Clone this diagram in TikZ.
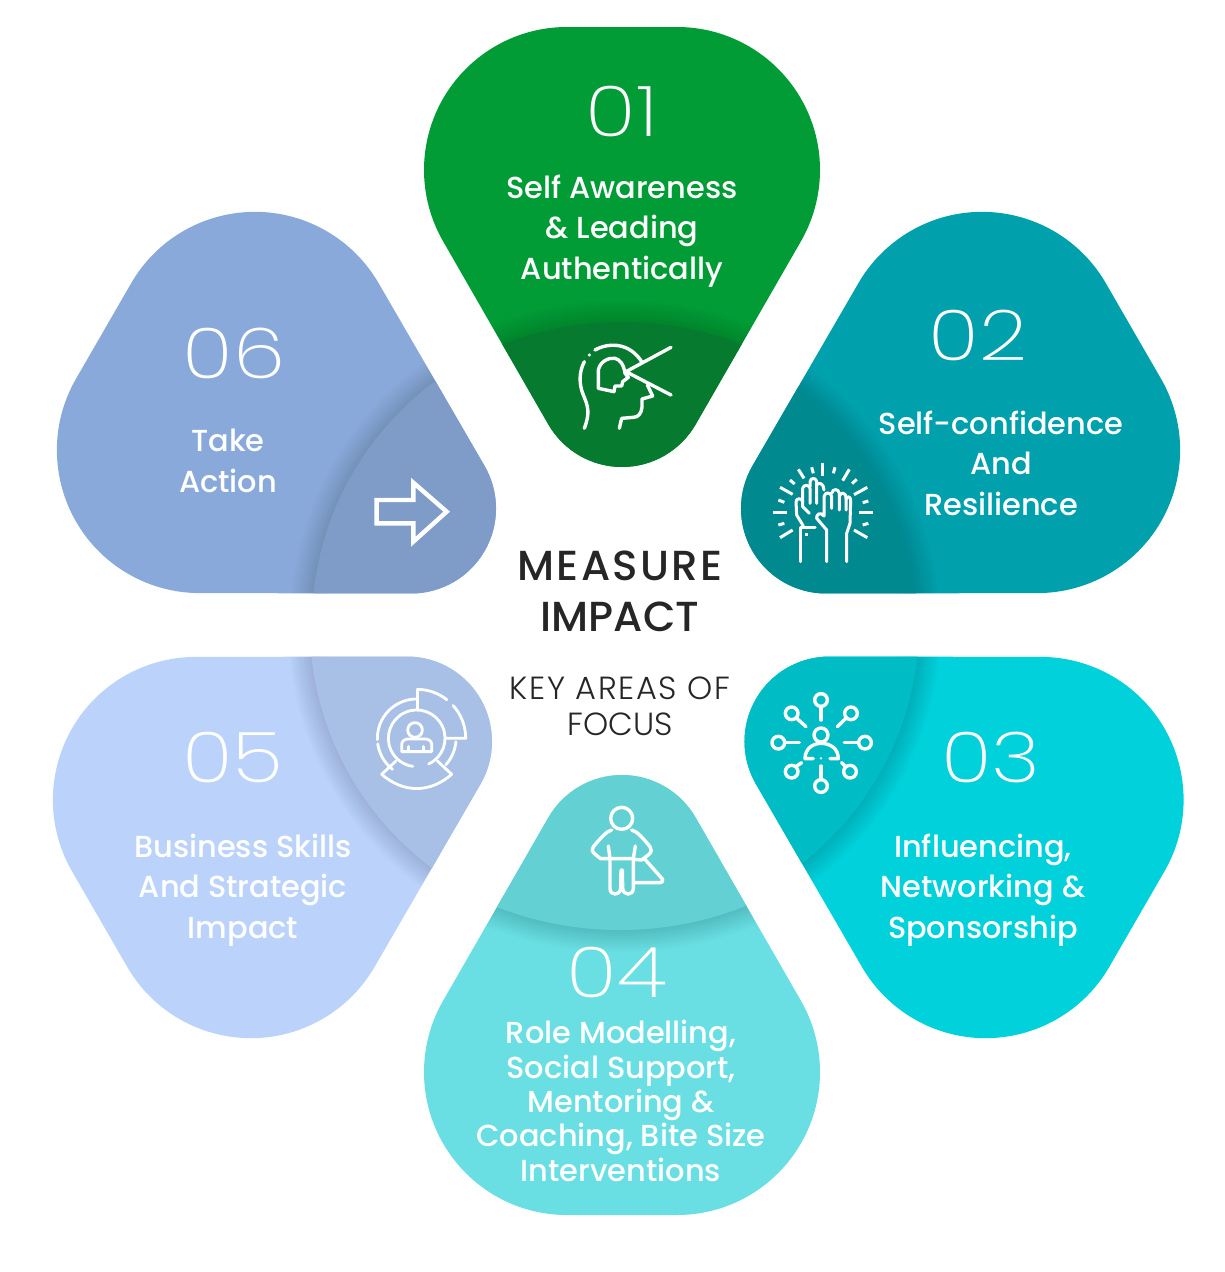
\documentclass[tikz,border=0pt]{standalone}
\usepackage{fontspec}
\setmainfont{Poppins}
\newfontfamily\thinfont[FakeStretch=1.2]{Poppins ExtraLight}
\newfontfamily\medfont{Poppins Medium}
\newfontfamily\lightfont{Poppins Light}
\tikzset{
 num/.style={text=white,font=\thinfont\fontsize{70}{70}\selectfont,inner sep=0pt},
 lab/.style={text=white,align=center,font=\medfont\fontsize{30.4}{40.4}\selectfont,inner sep=0pt},
 ico/.style={draw=white,line width=3.4pt,line cap=round,line join=round},
}
\newcommand{\petalpath}{(55,-594) .. controls (134,-594) and (198,-530) .. (198,-451)
 .. controls (198,-425.9) and (191.35,-401.2) .. (178.8,-379.5)
 -- (73.6,-196.5) .. controls (58.4,-170.2) and (30.4,-154) .. (0,-154)
 .. controls (-30.4,-154) and (-58.4,-170.2) .. (-73.6,-196.5)
 -- (-178.8,-379.5) .. controls (-191.35,-401.2) and (-198,-425.9) .. (-198,-451)
 .. controls (-198,-530) and (-134,-594) .. (-55,-594) -- cycle}
\newcommand{\petal}[8]{%
 \begin{scope}[shift={(#1,#2)},rotate=#3]
  \fill[#4] \petalpath;
  \begin{scope}
   \clip \petalpath;
   \begin{scope}[reset cm]
    \foreach \w in {4,8,...,44}{\draw[black,opacity=.013,line width=\w pt] (#6,#7) circle (#8);}
    \fill[#5] (#6,#7) circle (#8);
   \end{scope}
  \end{scope}
 \end{scope}}
\begin{document}
\begin{tikzpicture}[x=1pt,y=-1pt]
\useasboundingbox (0,0) rectangle (1225,1272);
\fill[white] (0,0) rectangle (1225,1272);
\definecolor{p1}{HTML}{029C37}\definecolor{d1}{HTML}{067A2E}
\definecolor{p2}{HTML}{00A0AC}\definecolor{d2}{HTML}{008A90}
\definecolor{p3}{HTML}{00D1DB}\definecolor{d3}{HTML}{00BCC5}
\definecolor{p4}{HTML}{69DFE3}\definecolor{d4}{HTML}{63D1D4}
\definecolor{p5}{HTML}{BBD3FB}\definecolor{d5}{HTML}{A9C0E6}
\definecolor{p6}{HTML}{8AA9DB}\definecolor{d6}{HTML}{7F9BC8}
\petal{622}{621}{0}{p1}{d1}{622}{652}{330}
\petal{619}{628}{-60}{p2}{d2}{615}{629}{303}
\petal{622.5}{622}{-120}{p3}{d3}{616}{624}{303}
\petal{622}{621}{180}{p4}{d4}{620}{590}{340}
\petal{614}{622}{120}{p5}{d5}{613}{625}{303}
\petal{618}{628}{60}{p6}{d6}{615}{625}{303}
% numbers
\node[num] (n1) at (622,112) {01};
\node[num] (n2) at (978,335) {02};
\node[num] (n3) at (991,757) {03};
\node[num] (n4) at (617,972) {04};
\node[num] (n5) at (233,757) {05};
\node[num] (n6) at (234,353) {06};
% labels
\node[lab] (t1) at (622,231) {Self Awareness\\\& Leading\\Authentically};
\node[lab] (t2) at (1001,463) {Self-confidence\\And\\Resilience};
\node[lab] (t3) at (983,890) {Influencing,\\Networking \&\\Sponsorship};
\node[lab,font=\medfont\fontsize{30.4}{34.3}\selectfont] (t4) at (621,1101) {Role Modelling,\\Social Support,\\Mentoring \&\\Coaching, Bite Size\\Interventions};
\node[lab] (t5) at (243,890) {Business Skills\\And Strategic\\Impact};
\node[lab] (t6) at (228,461) {Take\\Action};
\node[inner sep=0pt,align=center,text=black!85,font=\medfont\fontsize{42}{51}\selectfont] (c1) at (620,591) {{\addfontfeature{LetterSpace=5.8}MEASURE}\\IMPACT};
\node[inner sep=0pt,align=center,text=black!85,font=\lightfont\fontsize{32}{36}\selectfont] (c2) at (620,706) {{\addfontfeature{LetterSpace=5}KEY AREAS OF}\\FOCUS};
% icon 1
\begin{scope}[shift={(540,320)},x=1/3*1pt,y=-1/3*1pt]
 \draw[ico] (165,90) .. controls (210,65) and (270,70) .. (305,125);
 \fill[white] (148,105) circle (5);
 \draw[ico] (133,125) .. controls (115,160) and (118,195) .. (130,225) .. controls (145,260) and (150,280) .. (133,325);
 \draw[ico] (175,205) -- (175,150) .. controls (180,125) and (205,112) .. (225,115) .. controls (240,118) and (252,135) .. (255,160) -- (265,172) -- (248,185) -- (245,198) -- (225,198) -- (222,215) -- cycle;
 \draw[ico] (393,82) -- (258,155) -- (393,225);
 \draw[ico] (322,195) -- (338,228) -- (306,237) -- (306,262) .. controls (304,280) and (295,292) .. (280,292) -- (245,295) -- (238,325);
\end{scope}
% icon 2
\begin{scope}[shift={(750,440)},x=1/3*1pt,y=-1/3*1pt,ico/.append style={line width=3pt}]
 \foreach \a/\b/\c/\d in {218/68/218/108,185/82/190/100,145/88/162/115,120/120/134/132,90/142/128/163,85/180/103/187,70/217/112/217,85/255/103/250,90/293/128/270,255/82/250/100,298/88/278/122,320/118/306/131,352/142/312/164,355/183/338/188,370/217/328/217,355/250/338/255,352/293/312/270}
  \draw[ico,line cap=butt] (\a,\b) -- (\c,\d);
 \draw[ico] (150,365) -- (150,262) -- (195,262);
 \draw[ico] (160,258) -- (140,225) -- (138,185) .. controls (138,175) and (155,172) .. (158,185) -- (158,145) .. controls (160,133) and (178,133) .. (180,145) -- (180,190);
 \draw[ico] (180,140) -- (180,125) .. controls (182,112) and (198,112) .. (200,125) -- (200,190);
 \draw[ico] (200,135) .. controls (205,125) and (222,130) .. (222,150);
 \draw[ico] (158,185) -- (158,200) -- (178,220);
 \draw[ico] (230,365) -- (230,270) -- (200,235) .. controls (198,222) and (212,215) .. (222,228) -- (222,170) .. controls (224,155) and (243,155) .. (245,170) -- (245,205);
 \draw[ico] (245,160) .. controls (247,145) and (266,145) .. (268,160) -- (268,210);
 \draw[ico] (268,170) .. controls (270,155) and (288,155) .. (288,175) -- (288,210);
 \draw[ico] (288,178) .. controls (292,165) and (302,170) .. (302,182) -- (300,250) -- (290,280) -- (290,365);
 \fill[white] (166,279) rectangle (174,287);
\end{scope}
% icon 3
\begin{scope}[shift={(750,680)},x=1/3*1pt,y=-1/3*1pt]
 \draw[ico] (213,165) circle (21);
 \draw[ico] (190,236) -- (165,236) .. controls (165,205) and (190,190) .. (213,190) .. controls (240,190) and (265,205) .. (265,236) -- (240,236);
 \fill[white] (213,235) circle (4);
 \foreach \x/\y in {213/60,213/318,85/188,345/188,125/100,303/100,125/275,300/275} \draw[ico] (\x,\y) circle (19);
 \foreach \a/\b/\c/\d in {213/80/213/120,213/258/213/298,105/188/148/188,325/188/283/188,140/115/168/140,288/115/262/140,140/258/155/248,285/258/275/248}
  \draw[ico] (\a,\b) -- (\c,\d);
\end{scope}
% icon 4
\begin{scope}[shift={(560,790)},x=1/3*1pt,y=-1/3*1pt]
 \draw[ico] (185,85) circle (33);
 \draw[ico] (155,120) .. controls (140,125) and (130,135) .. (100,170) .. controls (95,178) and (95,185) .. (102,190) -- (122,206) -- (145,206);
 \draw[ico] (215,120) .. controls (232,125) and (245,140) .. (270,170) .. controls (275,178) and (275,185) .. (268,192) -- (245,210) -- (222,208);
 \draw[ico] (145,168) -- (150,206) -- (220,206) -- (226,168);
 \draw[ico] (150,206) -- (150,295) .. controls (150,318) and (180,318) .. (182,295) -- (183,240) -- (187,240) -- (188,295) .. controls (190,318) and (220,318) .. (220,295) -- (220,206);
 \draw[ico] (255,208) -- (308,268) .. controls (310,275) and (305,278) .. (300,278) -- (222,278);
\end{scope}
% icon 5
\begin{scope}[shift={(416.7,738.3)},x=1/3*1pt,y=1/3*1pt,ico/.append style={line width=2.8pt}]
 \draw[ico] (-65:85) arc[start angle=-65,end angle=262,radius=85];
 \draw[ico] (92:118) arc[start angle=92,end angle=182,radius=118];
 \draw[ico] (188:118) arc[start angle=188,end angle=232,radius=118];
 \draw[ico] (-5:118) arc[start angle=-5,end angle=-42,radius=118];
 \draw[ico] (89:147) arc[start angle=89,end angle=52,radius=147];
 \draw[ico] (42:147) arc[start angle=42,end angle=0,radius=147] -- (88,0);
 \draw[ico] (2,147) -- (2,88);
 \draw[ico] (-105,-108) -- (-62,-68);
 \draw[ico] (105,-108) -- (62,-68);
 \draw[ico] (-105,-108) .. controls (-40,-165) and (40,-165) .. (105,-108);
 \draw[ico] (-5,25) circle (22);
 \draw[ico] (-45,-40) -- (-45,-18) .. controls (-45,-8) and (-35,-2) .. (-25,-2) -- (25,-2) .. controls (35,-2) and (45,-8) .. (45,-18) -- (45,-40) -- cycle;
 \draw[ico] (-25,-25) -- (-25,-40);
 \draw[ico] (20,-25) -- (20,-40);
\end{scope}
% icon 6
\begin{scope}[shift={(360,470)},x=1/3*1pt,y=-1/3*1pt]
 \draw[ico,line width=4.4pt,line cap=butt,line join=miter] (50,90) -- (160,90) -- (160,38) -- (260,125) -- (160,215) -- (160,160) -- (50,160) -- cycle;
\end{scope}
\end{tikzpicture}
\end{document}
